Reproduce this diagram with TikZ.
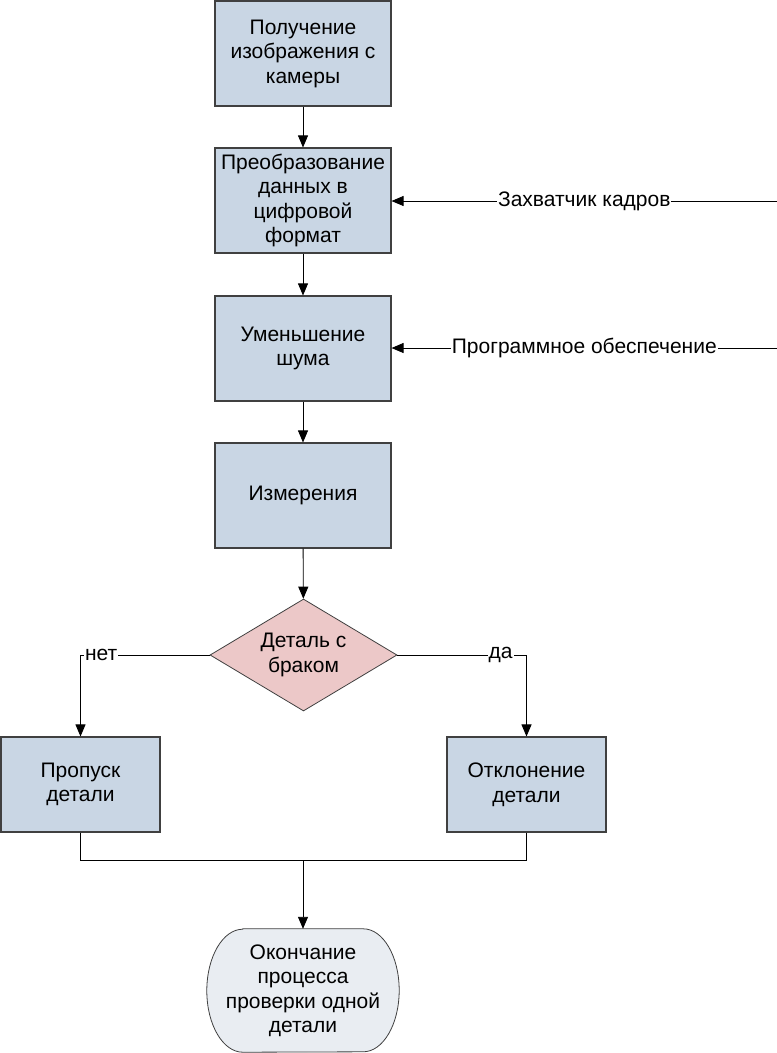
\documentclass[tikz,border=0pt]{standalone}
\usepackage{fontspec}
\setmainfont{Liberation Sans}
\usepackage{tikz}
\usetikzlibrary{arrows.meta,shapes.geometric,backgrounds}
\definecolor{boxfill}{RGB}{201,214,228}
\definecolor{diafill}{RGB}{236,200,200}
\definecolor{endfill}{RGB}{233,237,242}
\definecolor{edgegrey}{RGB}{64,64,64}
\begin{document}
\begin{tikzpicture}[x=1pt,y=1pt,
  font=\fontsize{21}{24.5}\selectfont,
  stepbox/.style={draw=edgegrey,line width=1.1pt,fill=boxfill,align=center,
    minimum width=176pt,minimum height=105pt,inner sep=2pt},
  sidebox/.style={stepbox,minimum width=159pt,minimum height=95pt},
  decision/.style={diamond,draw=edgegrey,line width=0.8pt,fill=diafill,align=center,
    aspect=1.67,minimum width=187pt,minimum height=112pt,inner sep=0pt},
  terminal/.style={align=center,minimum width=192pt,minimum height=123pt,inner sep=2pt},
  link/.style={draw,line width=0.9pt,-{Triangle[length=12pt,width=10pt]}},
  tag/.style={fill=white,inner sep=1pt}]
\useasboundingbox (0,0) rectangle (777,-1053);
\node[stepbox] (camera) at (303,-53.5) {Получение\\изображения с\\камеры};
\node[stepbox] (digital) at (303,-200.5) {Преобразование\\данных в\\цифровой\\формат};
\node[stepbox] (noise) at (303,-348.5) {Уменьшение\\шума};
\node[stepbox] (measure) at (303,-495.5) {Измерения};
\node[decision] (defect) at (303.5,-655) {Деталь с\\браком};
\node[sidebox] (pass) at (80.5,-784.5) {Пропуск\\детали};
\node[sidebox] (reject) at (526.5,-784.5) {Отклонение\\детали};
\node[terminal] (finish) at (303,-990.5) {Окончание\\процесса\\проверки одной\\детали};
\begin{scope}[on background layer]
\draw[edgegrey,line width=0.8pt,fill=endfill]
  ([xshift=36pt]finish.north west) -- ([xshift=-36pt]finish.north east)
  arc[start angle=90,end angle=-90,x radius=36pt,y radius=61.5pt]
  -- ([xshift=36pt]finish.south west)
  arc[start angle=270,end angle=90,x radius=36pt,y radius=61.5pt] -- cycle;
\end{scope}
\coordinate (grabber) at (777,-201);
\coordinate (software) at (777,-348);
\coordinate (merge) at (303,-860);
\draw[link] (camera) -- (digital);
\draw[link] (digital) -- (noise);
\draw[link] (noise) -- (measure);
\draw[link] (measure) -- (defect);
\draw[link] (grabber) -- node[tag] {Захватчик кадров} (grabber -| digital.east);
\draw[link] (software) -- node[tag] {Программное обеспечение} (software -| noise.east);
\draw[link] (defect.west) -| node[tag,pos=0.42] {нет} (pass.north);
\draw[link] (defect.east) -| node[tag,pos=0.40] {да} (reject.north);
\draw[line width=0.9pt] (pass.south) |- (merge);
\draw[line width=0.9pt] (reject.south) |- (merge);
\draw[link] (merge) -- (finish);
\end{tikzpicture}
\end{document}
